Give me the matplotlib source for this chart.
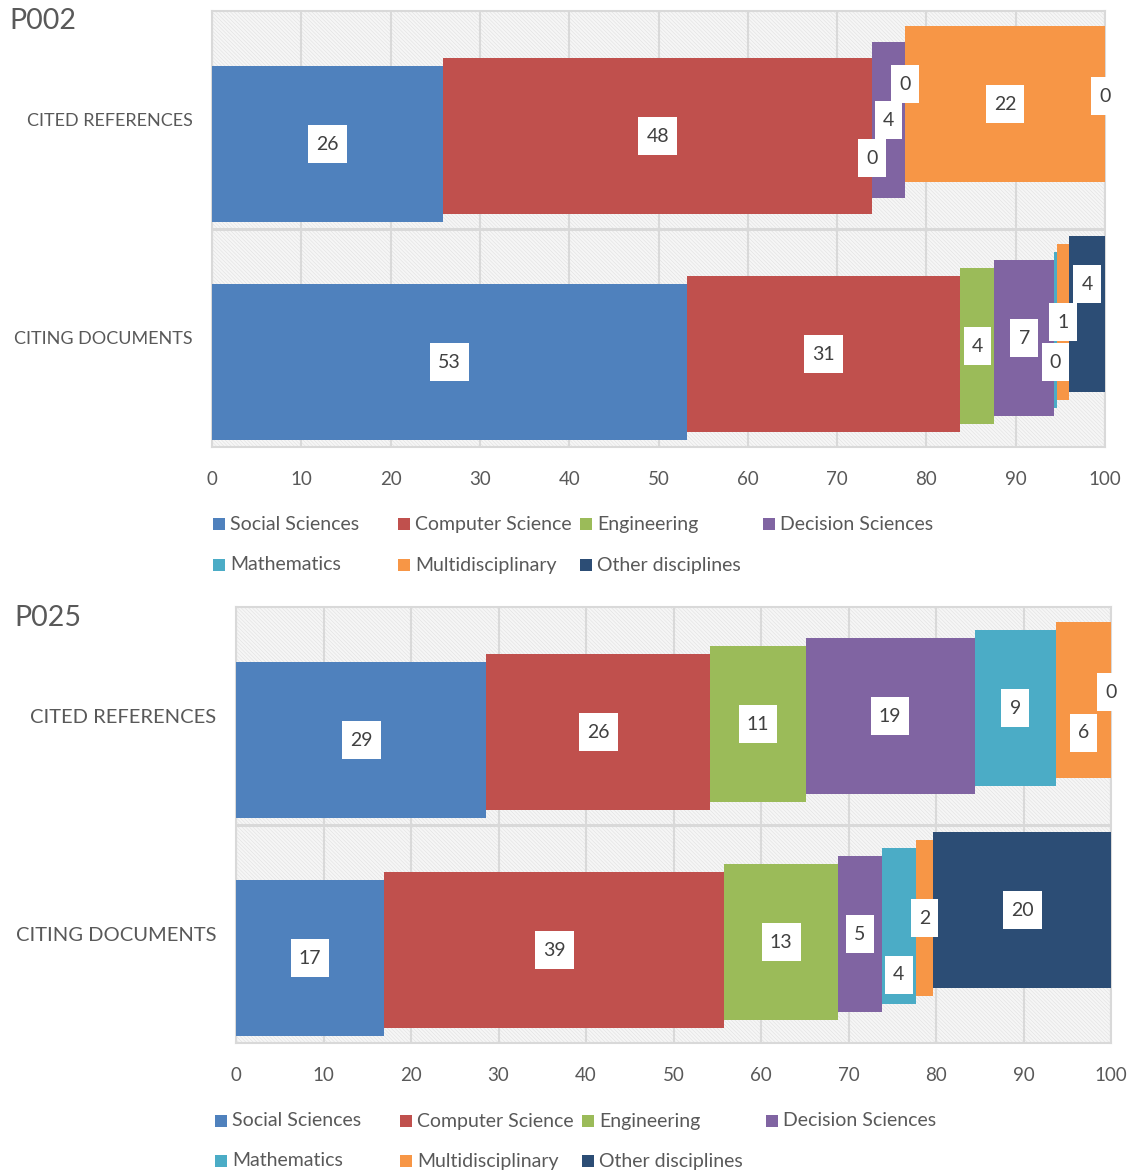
import matplotlib
matplotlib.use("Agg")
import matplotlib.pyplot as plt
from matplotlib.patches import Rectangle
from matplotlib.path import Path
import numpy as np

plt.rcParams['font.family'] = ['Lato', 'DejaVu Sans']
plt.rcParams['hatch.linewidth'] = 0.4

# ---------------- data ----------------
categories = ["CITED REFERENCES", "CITING DOCUMENTS"]
series_names = ["Social Sciences", "Computer Science", "Engineering",
                "Decision Sciences", "Mathematics", "Multidisciplinary",
                "Other disciplines"]
series_colors = ["#4F81BD", "#C0504D", "#9BBB59", "#8064A2",
                 "#4BACC6", "#F79646", "#2C4D75"]

p002_cited = [25.9, 48.0, 0.0, 3.7, 0.0, 22.4, 0.0]
p002_citing = [53.2, 30.6, 3.8, 6.7, 0.3, 1.4, 4.0]
p025_cited = [28.6, 25.6, 10.9, 19.3, 9.3, 6.3, 0.0]
p025_citing = [16.9, 38.9, 13.0, 5.0, 3.9, 2.0, 20.3]

x_ticks = [0, 10, 20, 30, 40, 50, 60, 70, 80, 90, 100]

# label nudges (pixels, positive = downward) to mimic Excel's label collision handling
label_nudges = {
    ("P002", 0, 2): 30, ("P002", 0, 4): -28,
    ("P002", 1, 4): 32, ("P002", 1, 6): -30,
    ("P025", 0, 5): 33,
    ("P025", 1, 4): 49,
}

W, H = 1131, 1173
fig = plt.figure(figsize=(W / 100, H / 100), dpi=100)

GRAY_TXT = '#595959'
GRID = '#d9d9d9'
PX_PER_UNIT = 218.0
SHIFT = 8.0 / PX_PER_UNIT
BAR_H = 156.0 / PX_PER_UNIT


def label_box(x0, y0, width, height, mutation_size):
    padx = 0.42 * mutation_size
    pady = 0.55 * mutation_size
    xa, xb = x0 - padx, x0 + width + padx
    ya, yb = y0 - pady, y0 + height + pady
    return Path([(xa, ya), (xb, ya), (xb, yb), (xa, yb), (xa, ya)], closed=True)


def panel(name, rect_px, cited, citing, title_xy, cat_fs, legend_rows_y, legend_cols_x):
    x0, y0, x1, y1 = rect_px
    ax = fig.add_axes([x0 / W, 1 - y1 / H, (x1 - x0) / W, (y1 - y0) / H])
    ax.set_facecolor('#f6f6f6')
    ax.patch.set_edgecolor('#e0e0e0')
    ax.patch.set_linewidth(0)
    ax.patch.set_hatch('\\' * 9)
    ax.set_xlim(0, 100)
    ax.set_ylim(-0.5, 1.5)
    cat_y = np.array([1.0, 0.0])
    data = np.array([cited, citing])  # shape (2, 7)
    lefts = np.zeros(2)
    for i, (sname, col) in enumerate(zip(series_names, series_colors)):
        widths = data[:, i]
        yc = cat_y + (i - 3) * SHIFT
        ax.barh(yc, widths, left=lefts, height=BAR_H, color=col,
                edgecolor='none', zorder=3)
        for k in range(2):
            nud = label_nudges.get((name, k, i), 0) / PX_PER_UNIT
            ax.text(lefts[k] + widths[k] / 2, yc[k] - nud, f"{widths[k]:.0f}",
                    ha='center', va='center', fontsize=14, color='#404040',
                    bbox=dict(boxstyle=label_box, fc='white', ec='none'),
                    zorder=6, clip_on=False)
        lefts = lefts + widths
    ax.set_axisbelow(True)
    ax.grid(axis='x', color=GRID, lw=1.5, zorder=1)
    ax.axhline(0.5, color=GRID, lw=2.2, zorder=1)
    for s in ax.spines.values():
        s.set_color(GRID)
        s.set_linewidth(1.5)
    ax.set_xticks(x_ticks)
    ax.set_xticklabels([str(t) for t in x_ticks])
    ax.set_yticks(cat_y)
    ax.set_yticklabels(categories)
    ax.tick_params(axis='x', length=0, pad=17, labelsize=13.5, labelcolor=GRAY_TXT)
    ax.tick_params(axis='y', length=0, pad=14, labelsize=cat_fs, labelcolor=GRAY_TXT)

    fig.text(title_xy[0] / W, 1 - title_xy[1] / H, name, ha='left', va='center',
             fontsize=20.5, color=GRAY_TXT)

    # legend (Excel style, row-major, equal column widths)
    for idx, (sname, col) in enumerate(zip(series_names, series_colors)):
        r, c = divmod(idx, 4)
        mx = legend_cols_x[c]
        my = legend_rows_y[r]
        fig.add_artist(Rectangle((mx / W, 1 - (my + 6) / H), 12 / W, 12 / H,
                                 transform=fig.transFigure, facecolor=col,
                                 edgecolor='none'))
        fig.text((mx + 17) / W, 1 - my / H, sname, ha='left', va='center',
                 fontsize=14, color=GRAY_TXT)
    return ax


panel("P002", (212, 11, 1105, 447), p002_cited, p002_citing, (9, 21), 13,
      (524, 565), (213, 398, 580, 763))
panel("P025", (236, 607, 1111, 1043), p025_cited, p025_citing, (14, 618), 14.5,
      (1121, 1161), (215, 400, 582, 766))

fig.savefig("out.png", dpi=100, facecolor='white')
